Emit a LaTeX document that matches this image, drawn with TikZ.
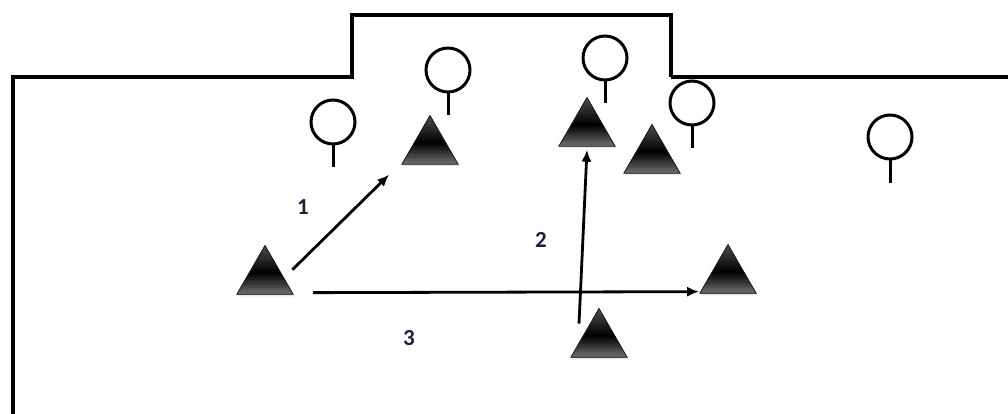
\documentclass[tikz,border=0pt]{standalone}
\usepackage{fontspec}
\setmainfont{Carlito}
\usetikzlibrary{shapes.geometric, arrows.meta, shadows, positioning, calc}

\definecolor{labelnavy}{RGB}{28,32,62}

\tikzset{
  device/.style={regular polygon, regular polygon sides=3, minimum size=65pt,
    inner sep=0pt, draw=black!90, line width=0.8pt, fill=black!80,
    drop shadow={opacity=0.2, shadow xshift=1pt, shadow yshift=-2pt},
    % banded fill: grey at the top, black just below the middle, lighter at the base
    path picture={
      \foreach \k [evaluate=\k as \c using {ifthenelse(\k<16.5, 70+30*\k/16.5, 100-45*(\k-16.5)/13.5)}] in {0,...,29}
        \fill[black!\c] ($(path picture bounding box.north west)!{\k/30}!(path picture bounding box.south west)$)
          rectangle ($(path picture bounding box.north east)!{(\k+1.3)/30}!(path picture bounding box.south east)$);
    }},
  sensor/.style={circle, draw=black, line width=3pt, minimum size=44pt, inner sep=0pt},
  stem/.style={line width=3pt},
  link/.style={line width=2.8pt, -{Latex[length=12pt,width=10pt]}},
  hoplabel/.style={text=labelnavy, font=\bfseries\fontsize{23}{23}\selectfont}
}

\begin{document}
\begin{tikzpicture}[x=1pt, y=-1pt]
			\useasboundingbox (0,0) rectangle (1008,414);
			% Room outline with the raised part
			\draw[line width=4pt, line join=miter] (13,414) -- (13,77) -- (352,77) -- (352,15) -- (671,15) -- (671,77);
			\draw[line width=3.2pt] (671,77) -- (1008,77);
			% Receivers on stems
			\node[sensor] (s1) at (333,122) {};
			\node[sensor] (s2) at (448,70) {};
			\node[sensor] (s3) at (605,58) {};
			\node[sensor] (s4) at (692,103) {};
			\node[sensor] (s5) at (890,137) {};
			\foreach \s in {s1,s2,s3,s4,s5}
				\draw[stem] (\s.south) -- ++(0,22);
			% Mobile nodes
			\node[device] (t1) at (265,278) {};
			\node[device] (t2) at (430,148) {};
			\node[device] (t3) at (587,130) {};
			\node[device] (t4) at (652,157) {};
			\node[device] (t5) at (728,277) {};
			\node[device] (t6) at (599,341) {};
			% Hops between nodes
			\draw[link] ([xshift=13pt]t1.side 3) -- ([xshift=-12pt,yshift=-10pt]t2.corner 2);
			\draw[link] ([xshift=-20pt,yshift=-16pt]t6.corner 1) -- ([yshift=-3pt]t3.side 2);
			\draw[link] ([xshift=19pt,yshift=2pt]t1.corner 3) -- ([yshift=2pt]t5.corner 2);
			% Hop numbers
			\node[hoplabel] (n1) at (303,207) {1};
			\node[hoplabel] (n2) at (541,240) {2};
			\node[hoplabel] (n3) at (409,338) {3};
		\end{tikzpicture}
\end{document}
